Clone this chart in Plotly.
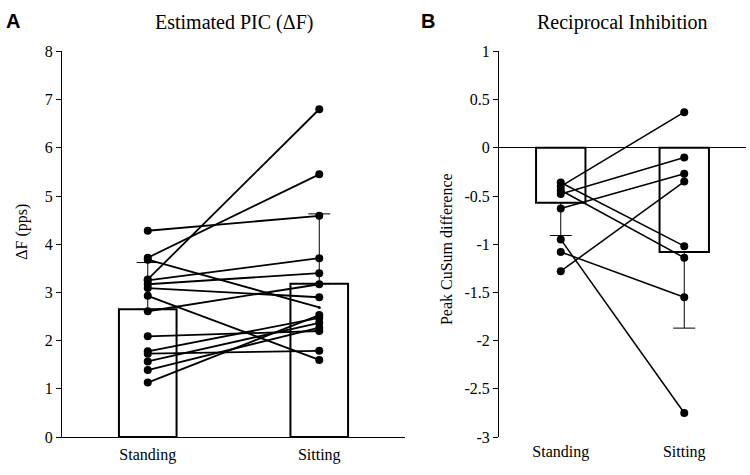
import plotly.graph_objects as go

# ---------------- data ----------------
conditions = ["Standing", "Sitting"]

# Panel A: Estimated PIC (ΔF), pps
pic_standing = [4.28, 3.72, 3.68, 3.27, 3.25, 3.17, 3.09, 2.93, 2.61, 2.09, 1.78, 1.73, 1.57, 1.39, 1.13]
pic_sitting  = [4.59, 5.45, 2.69, 6.80, 3.71, 3.40, 2.90, 1.60, 3.17, 2.20, 2.47, 1.79, 2.37, 2.27, 2.53]
pic_mean = [2.65, 3.18]
pic_sd   = [0.97, 1.45]

# Panel B: Reciprocal inhibition, peak CuSum difference
ri_standing = [-0.36, -0.40, -0.44, -0.48, -0.63, -0.95, -1.08, -1.28]
ri_sitting  = [-1.02, 0.37, -1.14, -0.10, -0.27, -2.75, -1.55, -0.35]
ri_mean = [-0.57, -1.08]
ri_sd   = [0.34, 0.79]

pic_ticks = [0, 1, 2, 3, 4, 5, 6, 7, 8]
ri_ticks = [1, 0.5, 0, -0.5, -1, -1.5, -2, -2.5, -3]
ri_ticktext = ["1", "0.5", "0", "-0.5", "-1", "-1.5", "-2", "-2.5", "-3"]

# ---------------- figure ----------------
SERIF = "Liberation Serif"
fig = go.Figure()
xpos = [0, 1]

# Panel A bars
fig.add_trace(go.Bar(
    x=xpos, y=pic_mean, width=0.336,
    marker=dict(color="white", line=dict(color="black", width=2)),
    error_y=dict(type="data", symmetric=False, array=pic_sd, arrayminus=[0, 0],
                 color="black", thickness=1, width=11),
    xaxis="x", yaxis="y", showlegend=False, hoverinfo="skip"))

for a, b in zip(pic_standing, pic_sitting):
    sizes = [8, 8]
    if b == 2.69:
        sizes = [8, 3]
    fig.add_trace(go.Scatter(
        x=xpos, y=[a, b], mode="lines+markers",
        line=dict(color="black", width=1.8),
        marker=dict(color="black", size=sizes, opacity=1, line=dict(width=0)),
        xaxis="x", yaxis="y", showlegend=False, hoverinfo="skip"))

# Panel B bars
fig.add_trace(go.Bar(
    x=xpos, y=ri_mean, width=0.40,
    marker=dict(color="white", line=dict(color="black", width=2)),
    error_y=dict(type="data", symmetric=False, array=[0, 0], arrayminus=ri_sd,
                 color="black", thickness=1, width=11),
    xaxis="x2", yaxis="y2", showlegend=False, hoverinfo="skip"))

for a, b in zip(ri_standing, ri_sitting):
    fig.add_trace(go.Scatter(
        x=xpos, y=[a, b], mode="lines+markers",
        line=dict(color="black", width=1.5),
        marker=dict(color="black", size=8, opacity=1, line=dict(width=0)),
        xaxis="x2", yaxis="y2", showlegend=False, hoverinfo="skip"))

ydom = [30 / 475, 430 / 475]
tickfont = dict(family=SERIF, size=16, color="black")

fig.update_layout(
    width=750, height=475,
    margin=dict(l=0, r=0, t=0, b=0),
    plot_bgcolor="white", paper_bgcolor="white",
    xaxis=dict(domain=[62 / 750, 405 / 750], range=[-0.5, 1.5],
               tickvals=xpos, ticktext=conditions, showline=True,
               linecolor="black", linewidth=1, ticks="", showgrid=False,
               zeroline=False, tickfont=tickfont, anchor="y", ticklabelstandoff=3),
    yaxis=dict(domain=ydom, range=[0, 8], tickvals=pic_ticks,
               showline=True, linecolor="black", linewidth=1,
               ticks="outside", ticklen=5, tickcolor="black",
               showgrid=False, zeroline=False, tickfont=tickfont, anchor="x"),
    xaxis2=dict(domain=[499 / 750, 746 / 750], range=[-0.5, 1.5],
                tickvals=xpos, ticktext=conditions, showline=False,
                ticks="", showgrid=False, zeroline=False,
                tickfont=tickfont, anchor="y2", ticklabelstandoff=3),
    yaxis2=dict(domain=ydom, range=[-3, 1], tickvals=ri_ticks, ticktext=ri_ticktext,
                showline=True, linecolor="black", linewidth=1,
                ticks="outside", ticklen=5, tickcolor="black",
                showgrid=False, zeroline=True, zerolinecolor="black",
                zerolinewidth=1, tickfont=tickfont, anchor="x2"),
    annotations=[
        dict(text="<b>A</b>", x=4 / 750, y=1 - 14 / 475, xref="paper", yref="paper",
             xanchor="left", yanchor="middle", showarrow=False,
             font=dict(family="Liberation Sans", size=20, color="black")),
        dict(text="<b>B</b>", x=419 / 750, y=1 - 14 / 475, xref="paper", yref="paper",
             xanchor="left", yanchor="middle", showarrow=False,
             font=dict(family="Liberation Sans", size=20, color="black")),
        dict(text="Estimated PIC (ΔF)", x=234 / 750, y=1 - 15 / 475, xref="paper",
             yref="paper", xanchor="center", yanchor="middle", showarrow=False,
             font=dict(family=SERIF, size=20, color="black")),
        dict(text="Reciprocal Inhibition", x=622 / 750, y=1 - 15 / 475, xref="paper",
             yref="paper", xanchor="center", yanchor="middle", showarrow=False,
             font=dict(family=SERIF, size=20, color="black")),
        dict(text="ΔF (pps)", x=22 / 750, y=1 - 232 / 475, xref="paper", yref="paper",
             xanchor="center", yanchor="middle", showarrow=False, textangle=-90,
             font=dict(family=SERIF, size=16, color="black")),
        dict(text="Peak CuSum difference", x=446 / 750, y=1 - 250 / 475, xref="paper",
             yref="paper", xanchor="center", yanchor="middle", showarrow=False,
             textangle=-90, font=dict(family=SERIF, size=16, color="black")),
    ],
)

fig.write_html("out.html",
               config={"displayModeBar": False, "staticPlot": True},
               post_script="document.body.style.margin='0';document.body.style.overflow='hidden';")
